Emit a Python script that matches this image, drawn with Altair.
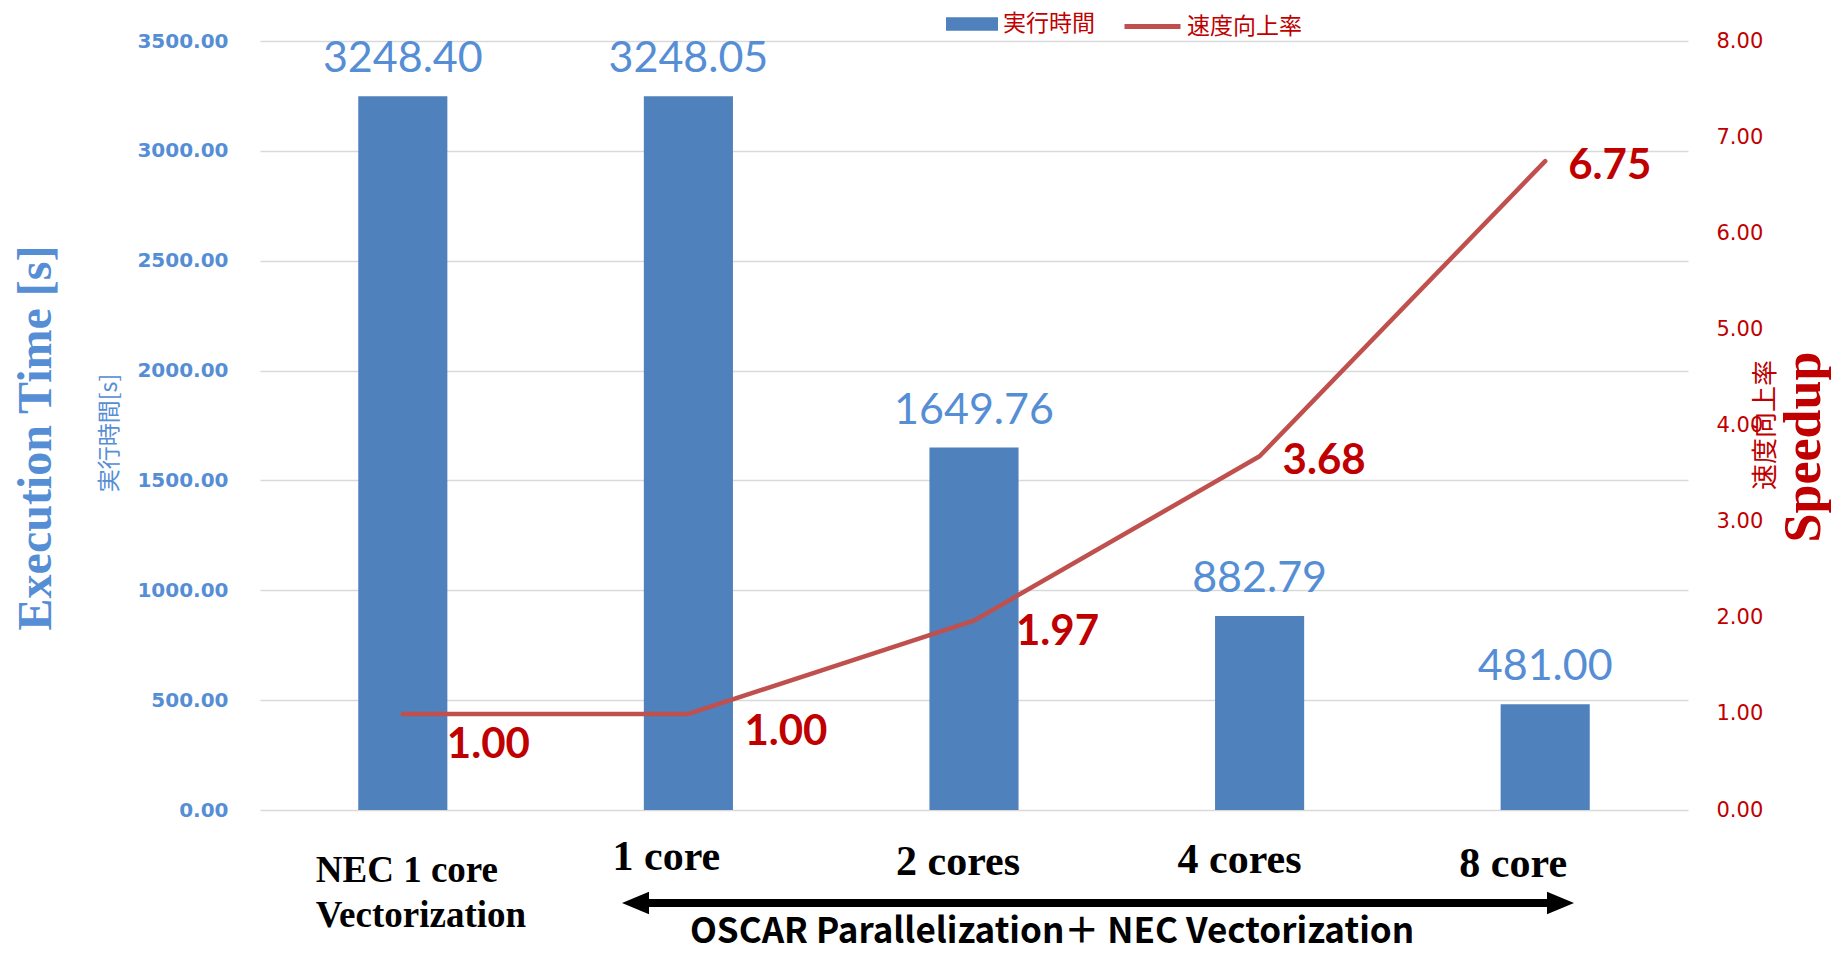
import altair as alt
import pandas as pd

# Benchmark results: execution time and speedup per configuration
categories = ["NEC 1 core Vectorization", "1 core", "2 cores", "4 cores", "8 core"]
category_labels = ["NEC 1 core\nVectorization", "1 core", "2 cores", "4 cores", "8 core"]
exec_time = [3248.40, 3248.05, 1649.76, 882.79, 481.00]
speedup = [1.00, 1.00, 1.97, 3.68, 6.75]
time_ticks = [0, 500, 1000, 1500, 2000, 2500, 3000, 3500]
speedup_ticks = [0, 1, 2, 3, 4, 5, 6, 7, 8]

df = pd.DataFrame({
    "cat": categories,
    "label": category_labels,
    "time": exec_time,
    "speedup": speedup,
})

BLUE_BAR = "#4F81BD"
BLUE_TXT = "#558ED5"
RED_LINE = "#C0504D"
RED_TXT = "#C00000"
GRID = "#D9D9D9"

W, H = 1428, 769

x_enc = alt.X(
    "cat:N",
    sort=categories,
    scale=alt.Scale(paddingInner=0.688, paddingOuter=0.344),
    axis=None,
)

base = alt.Chart(df)

# ---- execution time bars (left axis) ----
bars = base.transform_calculate(series='"実行時間"').mark_bar().encode(
    x=x_enc,
    y=alt.Y(
        "time:Q",
        scale=alt.Scale(domain=[0, 3500], nice=False, zero=True),
        axis=alt.Axis(
            values=time_ticks,
            format=".2f",
            grid=True,
            gridColor=GRID,
            gridWidth=1.5,
            domain=False,
            ticks=False,
            labelFont="DejaVu Sans",
            labelFontWeight="bold",
            labelFontSize=20,
            labelColor=BLUE_TXT,
            labelPadding=32,
            title=None,
        ),
    ),
    color=alt.Color(
        "series:N",
        scale=alt.Scale(domain=["実行時間"], range=[BLUE_BAR]),
        legend=alt.Legend(
            orient="none",
            legendX=686,
            legendY=-43,
            title=None,
            symbolType="M-1,-0.26H1V0.26H-1Z",
            symbolSize=2704,
            symbolStrokeWidth=0,
            labelFont="Noto Sans CJK JP",
            labelFontSize=23,
            labelColor=RED_TXT,
            labelOffset=5,
        ),
    ),
)

bar_text = base.mark_text(
    dy=-24, baseline="alphabetic", font="Lato", fontSize=43, color=BLUE_TXT
).encode(
    x=x_enc,
    y=alt.Y("time:Q"),
    text=alt.Text("time:Q", format=".2f"),
)

left = alt.layer(bars, bar_text)

# ---- speedup line (right axis) ----
line = base.transform_calculate(series2='"速度向上率"').mark_line(
    strokeWidth=4.5, strokeCap="round", strokeJoin="round"
).encode(
    x=x_enc,
    y=alt.Y(
        "speedup:Q",
        scale=alt.Scale(domain=[0, 8], nice=False, zero=True),
        axis=alt.Axis(
            orient="right",
            values=speedup_ticks,
            format=".2f",
            grid=False,
            domain=False,
            ticks=False,
            labelFont="DejaVu Sans",
            labelFontSize=21,
            labelColor=RED_TXT,
            labelPadding=28,
            title=None,
        ),
    ),
    stroke=alt.Stroke(
        "series2:N",
        scale=alt.Scale(domain=["速度向上率"], range=[RED_LINE]),
        legend=alt.Legend(
            orient="none",
            legendX=862,
            legendY=-45,
            title=None,
            symbolType="stroke",
            symbolSize=3136,
            symbolStrokeWidth=5,
            labelFont="Noto Sans CJK JP",
            labelFontSize=23,
            labelColor=RED_TXT,
            labelOffset=4,
        ),
    ),
)

# label placement for each speedup value (dx, dy from the point)
speedup_label_offsets = [(44, 31), (56, 18), (42, 11), (23, 5), (23, 5)]
speedup_labels = []
for cat, (dx, dy) in zip(categories, speedup_label_offsets):
    speedup_labels.append(
        base.transform_filter(alt.datum.cat == cat).mark_text(
            dx=dx, dy=dy, align="left", baseline="middle",
            font="Lato", fontWeight="bold", fontSize=42, color=RED_TXT,
        ).encode(
            x=x_enc,
            y=alt.Y("speedup:Q"),
            text=alt.Text("speedup:Q", format=".2f"),
        )
    )

right = alt.layer(line, *speedup_labels)

# ---- category labels under the bars ----
category_label_style = [
    dict(dx=-87, y=841, align="left"),
    dict(dx=-22, y=829, align="center"),
    dict(dx=-16, y=834, align="center"),
    dict(dx=-20, y=832, align="center"),
    dict(dx=-32, y=836, align="center"),
]
cat_layers = []
for cat, st in zip(categories, category_label_style):
    size = 37 if st["align"] == "left" else 42
    cat_layers.append(
        base.transform_filter(alt.datum.cat == cat).mark_text(
            dx=st["dx"], align=st["align"], baseline="alphabetic",
            font="Liberation Serif", fontWeight="bold", fontSize=size,
            color="black", lineBreak="\n", lineHeight=45,
        ).encode(x=x_enc, y=alt.value(st["y"]), text="label:N")
    )


def note(text, x, y, **style):
    return alt.Chart(pd.DataFrame({"t": [text]})).mark_text(**style).encode(
        x=alt.value(x), y=alt.value(y), text="t:N"
    )


titles = [
    note("Execution Time [s]", -223, 397, angle=270, align="center", baseline="middle",
         font="Liberation Serif", fontWeight="bold", fontSize=48, color=BLUE_TXT),
    note("実行時間[s]", -150, 392, angle=270, align="center", baseline="middle",
         font="Noto Sans CJK JP", fontSize=23, color=BLUE_TXT),
    note("速度向上率", 1506, 384, angle=270, align="center", baseline="middle",
         font="Noto Sans CJK JP", fontSize=26, color=RED_TXT),
    note("Speedup", 1544, 406, angle=270, align="center", baseline="middle",
         font="Liberation Serif", fontWeight="bold", fontSize=52, color=RED_TXT),
    note("OSCAR Parallelization＋ NEC Vectorization", 792, 902, align="center",
         baseline="alphabetic", font="Noto Sans CJK JP", fontWeight="bold",
         fontSize=35, color="black"),
]

# double-headed arrow spanning the parallel configurations
arrow_df = pd.DataFrame({"a": [0]})
arrow_line = alt.Chart(arrow_df).mark_rule(color="black", strokeWidth=8).encode(
    x=alt.value(380), x2=alt.value(1298), y=alt.value(862)
)
arrow_left = alt.Chart(arrow_df).mark_point(
    shape="M0,0L1,-0.42L1,0.42Z", size=2916, filled=True, color="black", opacity=1, strokeWidth=0
).encode(x=alt.value(362), y=alt.value(862))
arrow_right = alt.Chart(arrow_df).mark_point(
    shape="M0,0L-1,-0.42L-1,0.42Z", size=2916, filled=True, color="black", opacity=1, strokeWidth=0
).encode(x=alt.value(1314), y=alt.value(862))

chart = alt.layer(
    left, right, *cat_layers, *titles, arrow_line, arrow_left, arrow_right
).resolve_scale(
    y="independent"
).properties(
    width=W,
    height=H,
    padding={"left": 260, "top": 41, "right": 157, "bottom": 143},
    autosize=alt.AutoSizeParams(type="none"),
    background="white",
).configure_view(strokeWidth=0)

chart.save("out.html", embed_options={"renderer": "svg", "actions": False})
